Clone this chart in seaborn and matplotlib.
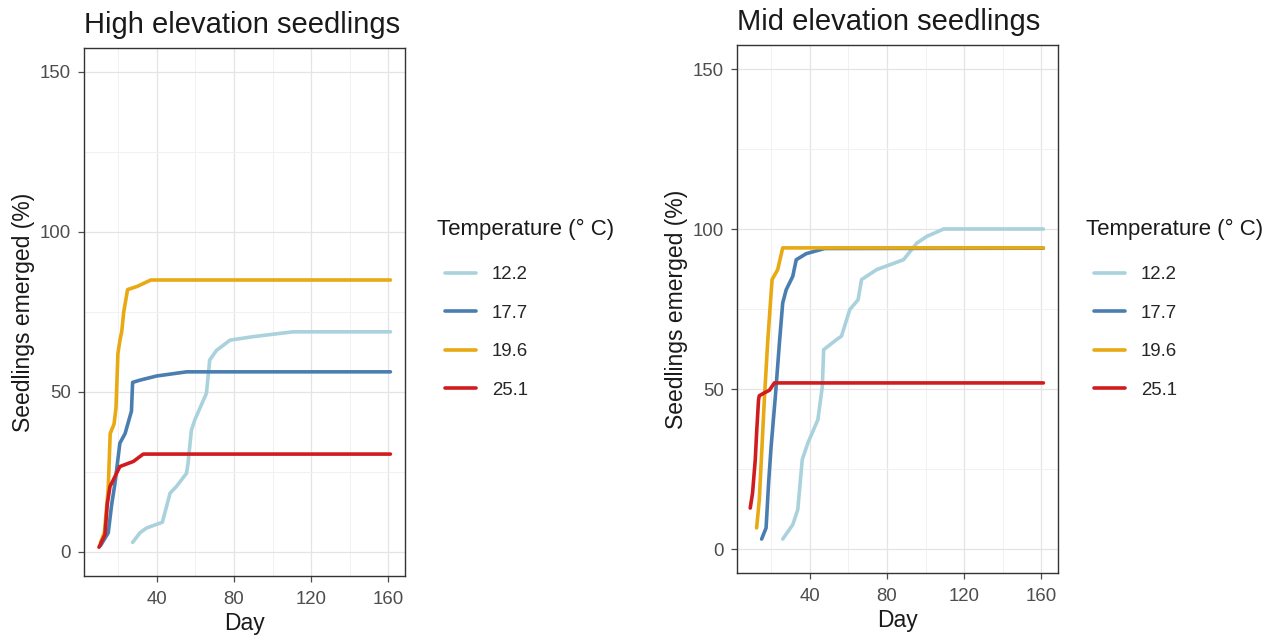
import numpy as np
import pandas as pd
import matplotlib
matplotlib.use("Agg")
import matplotlib.pyplot as plt
import seaborn as sns

temps = ["12.2", "17.7", "19.6", "25.1"]
palette = {"12.2": "#a9d2dc", "17.7": "#4a7eb0", "19.6": "#e8a913", "25.1": "#d01c1f"}

# High elevation
high_day_122 = [27.6, 31.4, 34.8, 43, 47, 50.3, 55.5, 56.3, 58, 59.8, 65.8, 67.5, 71, 78, 90, 110.6, 161]
high_val_122 = [3, 6, 7.5, 9.3, 18.4, 20.5, 24.6, 27.8, 38, 41.3, 49.6, 60, 63, 66.2, 67.3, 68.8, 68.8]
high_day_177 = [11, 13, 15, 16.8, 18.5, 21, 23.7, 27, 27.6, 31.4, 40, 55.5, 161]
high_val_177 = [2, 4, 6, 15, 21.5, 34, 37, 44, 53, 53.7, 55, 56.3, 56.3]
high_day_196 = [11, 13, 15, 16, 18, 19, 20, 21, 22, 23, 25, 30, 37, 161]
high_val_196 = [3, 6, 20, 37, 40, 45, 62, 66, 69, 75, 82, 83, 85, 85]
high_day_251 = [10.2, 13.3, 14.5, 15.9, 17.6, 21, 28, 33.1, 161]
high_val_251 = [1.5, 5.4, 15, 20.5, 22.5, 26.7, 28.3, 30.6, 30.6]

# Mid elevation
mid_day_122 = [26.1, 31.3, 33.9, 36.2, 39.1, 44.3, 46.6, 47.3, 53.9, 56.5, 60.8, 65.1, 66.9, 74.7, 88.6, 95.5, 100.7, 109.4, 161]
mid_val_122 = [3.1, 7.6, 12.3, 27.9, 33.1, 40.4, 50.8, 62.3, 65.4, 66.5, 74.8, 77.9, 84.2, 87.3, 90.4, 95.6, 97.7, 100, 100]
mid_day_177 = [15.2, 17.5, 18.8, 20.1, 22.3, 24.4, 26.1, 27.9, 31.3, 33.1, 38.3, 47.8, 161]
mid_val_177 = [3.1, 6.6, 20.6, 32, 47.7, 64.4, 76.9, 81, 85.2, 90.4, 92.3, 93.9, 94]
mid_day_196 = [12.6, 14, 16.6, 18.3, 19.5, 20.6, 23.5, 26.1, 161]
mid_val_196 = [6.6, 15.4, 46.7, 64.4, 74.8, 84.2, 87.3, 94.1, 94.1]
mid_day_251 = [9.3, 10.5, 11.9, 12.6, 13.6, 14, 16.6, 19.2, 21.8, 161]
mid_val_251 = [12.8, 17.5, 27.9, 36.3, 46.7, 47.9, 48.8, 49.6, 51.9, 51.9]

titles = ["High elevation seedlings", "Mid elevation seedlings"]
legend_title = "Temperature (\u00b0 C)"


def make_df(days, vals):
    frames = []
    for t, d, v in zip(temps, days, vals):
        frames.append(pd.DataFrame({"Day": d, "Pct": v, "Temp": t}))
    return pd.concat(frames, ignore_index=True)


df_high = make_df([high_day_122, high_day_177, high_day_196, high_day_251],
                  [high_val_122, high_val_177, high_val_196, high_val_251])
df_mid = make_df([mid_day_122, mid_day_177, mid_day_196, mid_day_251],
                 [mid_val_122, mid_val_177, mid_val_196, mid_val_251])

sns.set_theme(style="white")
plt.rcParams["font.family"] = ["Liberation Sans", "DejaVu Sans"]

fig = plt.figure(figsize=(12.84, 6.41), dpi=100)
W, H = 1284, 641
ax_specs = [(84, 48, 405, 576), (737, 45, 1058, 573)]
legend_title_x = [437, 1086]
legend_key_x = [445, 1094]

for i, (df, spec) in enumerate(zip([df_high, df_mid], ax_specs)):
    l, t, r, b = spec
    ax = fig.add_axes([l / W, 1 - b / H, (r - l) / W, (b - t) / H])
    sns.lineplot(data=df, x="Day", y="Pct", hue="Temp", hue_order=temps,
                 palette=palette, linewidth=2.6, ax=ax, estimator=None,
                 sort=False, legend=True)
    ax.set_xlim(2.45, 168.55)
    ax.set_ylim(-7.5, 157.5)
    ax.set_xticks([40, 80, 120, 160])
    ax.set_yticks([0, 50, 100, 150])
    ax.set_xticks([20, 60, 100, 140], minor=True)
    ax.set_yticks([25, 75, 125], minor=True)
    ax.grid(True, which="major", color="#e4e4e4", linewidth=0.9)
    ax.grid(True, which="minor", color="#f1f1f1", linewidth=0.7)
    ax.set_axisbelow(True)
    for s in ax.spines.values():
        s.set_color("#333333")
        s.set_linewidth(1.0)
    ax.tick_params(axis="both", which="major", length=4, width=0.9, color="#4d4d4d",
                   labelcolor="#4d4d4d", labelsize=13.4, bottom=True, left=True)
    ax.tick_params(axis="x", which="major", pad=6.5)
    ax.tick_params(axis="y", which="major", pad=5.5)
    ax.tick_params(axis="both", which="minor", length=0)
    ax.set_xlabel("Day", fontsize=16.5, color="#1a1a1a", labelpad=3.5)
    ax.set_ylabel("Seedlings emerged (%)", fontsize=16.5, color="#1a1a1a", labelpad=3)
    ax.set_title(titles[i], loc="left", fontsize=21, color="#1a1a1a", pad=11)
    handles, labels = ax.get_legend_handles_labels()
    ax.legend(handles, labels, frameon=False,
              loc="upper left", bbox_to_anchor=((legend_key_x[i] - l) / (r - l), (b - 266) / (b - t)),
              fontsize=13.4, handlelength=1.67, labelspacing=1.16,
              handletextpad=0.86, borderaxespad=0, borderpad=0)
    for line in ax.get_legend().get_lines():
        line.set_linewidth(2.6)
    fig.text(legend_title_x[i] / W, 1 - 229 / H, legend_title, fontsize=16,
             color="#1a1a1a", ha="left", va="center")

fig.savefig("out.png", dpi=100)
